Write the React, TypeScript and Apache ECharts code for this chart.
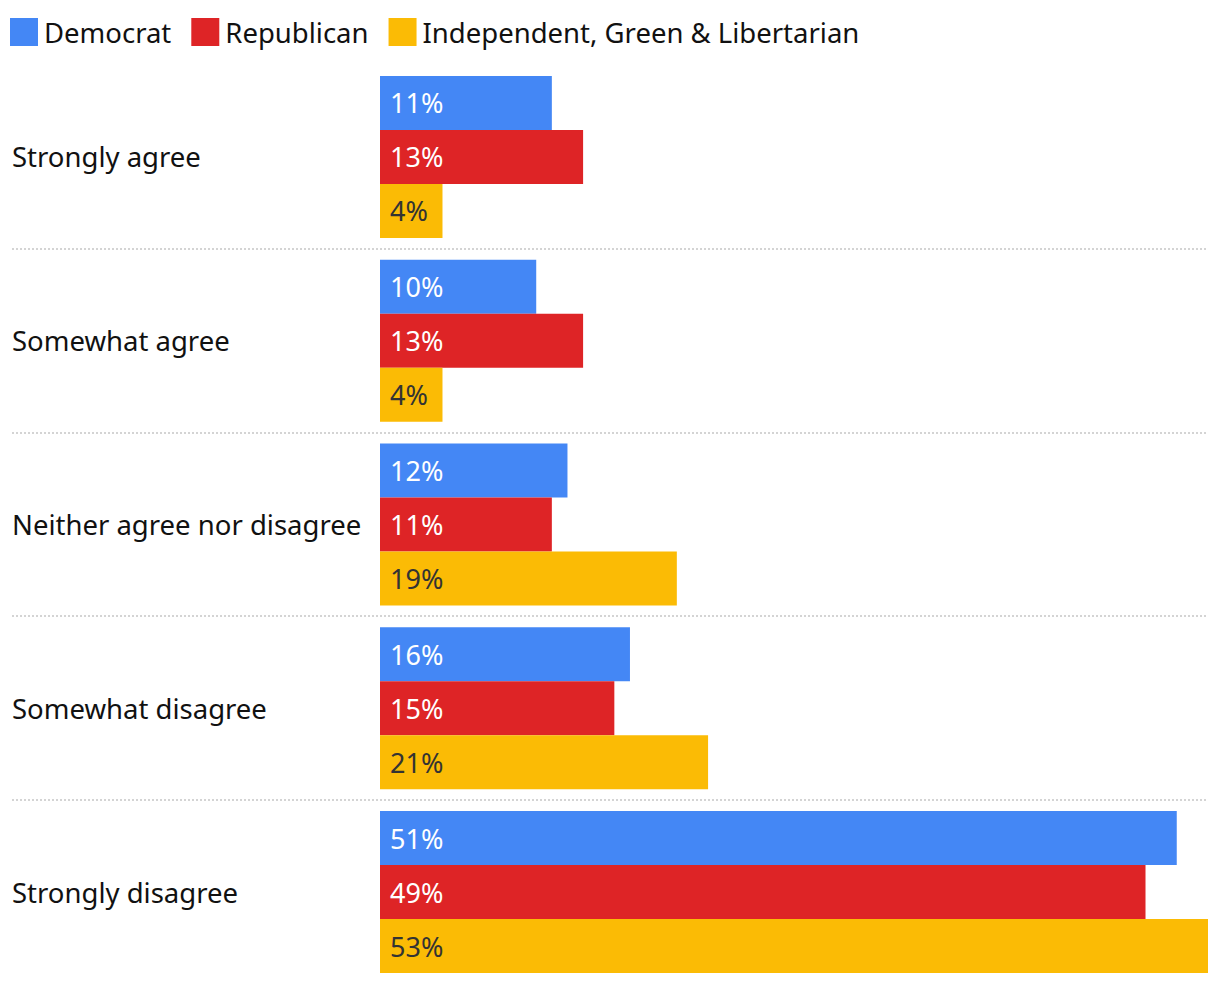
import React, { useEffect, useRef } from "react";
import * as echarts from "echarts";

const categories = [
  "Strongly agree",
  "Somewhat agree",
  "Neither agree nor disagree",
  "Somewhat disagree",
  "Strongly disagree",
];
const democrat = [11, 10, 12, 16, 51];
const republican = [13, 13, 11, 15, 49];
const independent = [4, 4, 19, 21, 53];
const seriesNames = ["Democrat", "Republican", "Independent, Green & Libertarian"];
const colors = ["#4487f5", "#de2426", "#fbbb05"];
const labelColors = ["#ffffff", "#ffffff", "#333333"];

const FONT = "'Noto Sans', sans-serif";

export default function App() {
  const ref = useRef<HTMLDivElement>(null);
  useEffect(() => {
    if (!ref.current) return;
    const chart = echarts.init(ref.current, null, { renderer: "svg" });
    const dataSets = [democrat, republican, independent];
    chart.setOption({
      animation: false,
      legend: {
        left: 10,
        top: 18,
        itemWidth: 28,
        itemHeight: 28,
        itemGap: 20,
        icon: "rect",
        padding: 0,
        textStyle: { fontSize: 27.5, color: "#111", fontFamily: FONT, padding: [0, 0, 0, 1] },
        data: seriesNames,
      },
      grid: { left: 380, top: 65, width: 828, height: 920 },
      xAxis: {
        type: "value",
        min: 0,
        max: 53,
        show: false,
      },
      yAxis: {
        type: "category",
        inverse: true,
        data: categories,
        axisLine: { show: false },
        axisTick: { show: false },
        splitLine: { show: false },
        axisLabel: {
          align: "left",
          margin: 368,
          fontSize: 27.5,
          color: "#111",
          fontFamily: FONT,
          padding: [0, 0, 3, 0],
        },
      },
      series: dataSets.map((d, i) => ({
        name: seriesNames[i],
        type: "bar",
        data: d,
        barWidth: 54,
        barGap: "0%",
        itemStyle: { color: colors[i] },
        label: {
          show: true,
          position: "insideLeft",
          distance: 10,
          formatter: "{c}%",
          fontSize: 27,
          color: labelColors[i],
          fontFamily: FONT,
        },
      })),
    });

    const lines: any[] = [];
    for (let i = 0; i < categories.length - 1; i++) {
      const y1 = chart.convertToPixel({ yAxisIndex: 0 }, i) as number;
      const y2 = chart.convertToPixel({ yAxisIndex: 0 }, i + 1) as number;
      const y = Math.round((y1 + y2) / 2);
      lines.push({
        type: "line",
        shape: { x1: 12, y1: y, x2: 1208, y2: y },
        style: { stroke: "#d4d4d4", lineWidth: 2, lineDash: [2, 2] },
      });
    }
    chart.setOption({ graphic: lines });

    return () => chart.dispose();
  }, []);
  return (
    <div
      ref={ref}
      style={{ position: "absolute", left: 0, top: 0, width: 1220, height: 984 }}
    />
  );
}
